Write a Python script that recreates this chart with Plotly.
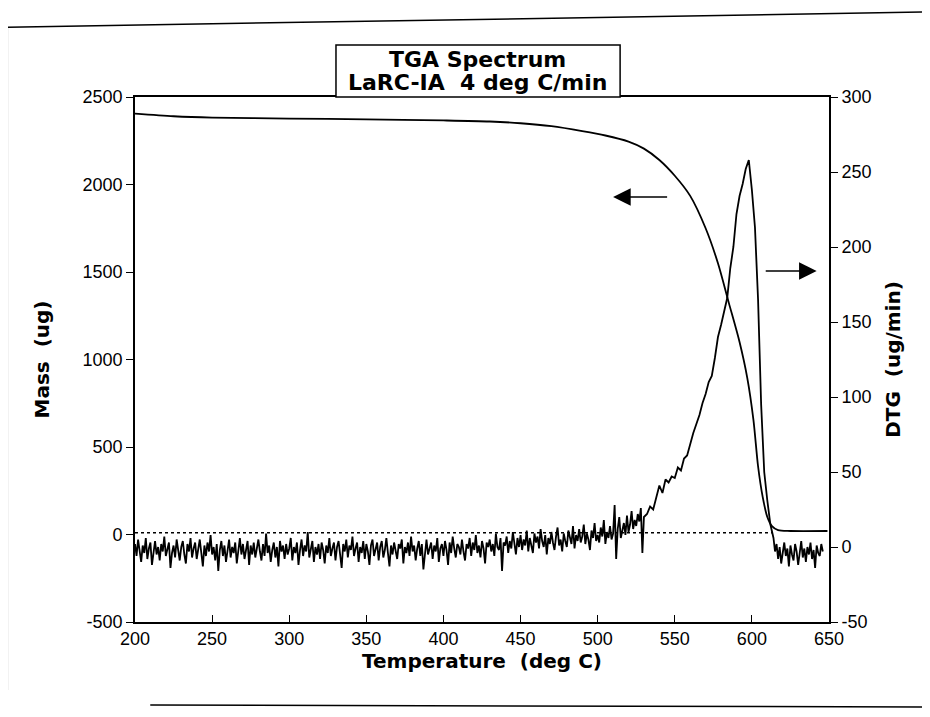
import plotly.graph_objects as go

# ---- data ----
mass_temp = [200, 225, 250, 300, 350, 400, 430, 450, 470, 490, 505, 520, 530, 540, 550,
             560, 570, 578, 585, 592, 597, 601, 604, 607, 610, 613, 617, 625, 649]
mass_ug = [2405, 2390, 2382, 2377, 2372, 2366, 2360, 2350, 2333, 2305, 2280, 2245, 2205, 2140,
           2050, 1935, 1750, 1550, 1325, 1100, 895, 655, 390, 215, 100, 48, 25, 20, 20]

dtg_temp = list(range(200, 531)) + list(range(532, 615, 2)) + list(range(615, 647))
dtg_ugmin = [
    # 200-249
    2, -6, 5, -3, -10, 1, -4, 6, -8, -1,
    3, -12, -2, 4, -5, 0, -9, 2, -3, 7,
    -6, -1, 3, -14, -4, 1, -7, 5, -2, -9,
    0, 4, -5, -11, 2, -3, 6, -7, -1, 3,
    -8, -2, 5, -4, -13, 1, -6, 3, -3, 8,
    # 250-299
    -5, 0, -9, 2, -16, -2, 4, -6, 1, -10,
    -3, 5, -7, 0, -4, 3, -11, -1, 6, -5,
    2, -8, -2, 4, -12, 1, -5, 3, -7, 0,
    5, -3, -9, 2, -6, 9, -4, 1, -10, -2,
    3, -7, 0, -13, 4, -3, 1, -8, 2, -5,
    # 300-349
    -1, 6, -9, 0, -4, 3, -12, -2, 5, -6,
    1, -3, 10, -7, -1, 4, -10, 0, -5, 2,
    -8, 3, -2, -11, 1, -4, 6, -6, -1, 3,
    -9, 0, 4, -5, -14, 2, -3, 5, -7, 1,
    -2, 7, -6, -1, 3, -10, 0, -4, 4, -8,
    # 350-399
    2, -3, -12, 1, 5, -6, -1, 3, -9, 0,
    4, -7, -2, 6, -4, -13, 1, -5, 3, -2,
    -8, 2, -1, 5, -11, 0, -4, 3, -6, 7,
    -3, 1, -9, -1, 4, -6, 2, -15, -2, 5,
    -5, 0, 3, -8, 1, -3, 6, -10, -1, 2,
    # 400-449
    -6, 4, -2, -12, 3, -4, 7, -1, -7, 2,
    0, -5, 5, -3, -9, 2, -1, 6, -6, 3,
    -2, 8, -4, 1, -7, 4, -1, -11, 3, 0,
    5, -3, 2, -6, 9, 0, -2, 6, -16, 3,
    1, 7, -4, 4, -1, 10, 2, -5, 6, 0,
    # 450-499
    8, -2, 5, 1, 11, -3, 6, 2, -4, 9,
    3, 7, -1, 12, 4, 0, 8, -5, 6, 2,
    10, 3, -2, 7, 13, 1, 5, -3, 9, 4,
    0, 11, 6, 2, 14, -1, 8, 4, 12, 3,
    7, 15, 2, 9, 5, -2, 11, 6, 16, 4,
    # 500-530
    8, 3, 13, 7, 18, 2, 10, 6, 14, 5,
    9, 28, -8, 12, 20, 6, 11, 16, 8, 21,
    10, 15, 24, 12, 18, 14, 22, 17, 26, -4,
    20,
    # 532-560 (2 deg)
    22, 27, 25, 33, 41, 36, 45, 43, 47, 46, 53, 51, 59, 61, 69,
    # 562-590
    76, 82, 88, 96, 102, 110, 114, 126, 140, 148, 158, 166, 186, 200, 222,
    # 592-600
    234, 242, 252, 258, 238,
    # 602-614
    213, 165, 95, 50, 31, 15, 6,
    # 615-646
    -3, 2, -8, 0, -11, -4, 3, -6, -1, -13, 1, -5, -9, 2, -3, -12,
    -2, 4, -7, -1, -10, 0, -5, 3, -8, -2, -14, 1, -4, -6, 2, -3,
]

baseline_temp = [200, 613]
baseline_mass = [10, 10]

x_ticks = [200, 250, 300, 350, 400, 450, 500, 550, 600, 650]
mass_ticks = [-500, 0, 500, 1000, 1500, 2000, 2500]
mass_ticklabels = ["-500", "0", "500", "1000", "1500", "2000", "2500"]
dtg_ticks = [-50, 0, 50, 100, 150, 200, 250, 300]
dtg_ticklabels = ["-50", "0", "50", "100", "150", "200", "250", "300"]

TICKFONT = "Liberation Sans"
BOLDFONT = "DejaVu Sans"
NB = "\u00a0"

fig = go.Figure()
fig.add_trace(go.Scatter(x=baseline_temp, y=baseline_mass, mode="lines",
                         line=dict(color="black", width=1.3, dash="dot"),
                         showlegend=False, hoverinfo="skip"))
fig.add_trace(go.Scatter(x=mass_temp, y=mass_ug, mode="lines", line_shape="spline",
                         line=dict(color="black", width=1.8, smoothing=0.8),
                         showlegend=False, name="Mass"))
fig.add_trace(go.Scatter(x=dtg_temp, y=dtg_ugmin, mode="lines",
                         line=dict(color="black", width=1.8), yaxis="y2",
                         showlegend=False, name="DTG"))

axis_common = dict(showgrid=False, zeroline=False, showline=True, linecolor="black",
                   linewidth=1.6, tickcolor="black", tickwidth=1.4, automargin=False,
                   tickfont=dict(family=TICKFONT, size=18, color="black"))
title_font = dict(family=BOLDFONT, size=20, color="black")

fig.update_layout(
    width=922, height=709,
    paper_bgcolor="white", plot_bgcolor="white",
    margin=dict(l=127, r=101, t=89, b=95),
    font=dict(family=TICKFONT, color="black"),
    xaxis=dict(range=[200, 650], tickvals=x_ticks, ticks="inside", ticklen=7,
               mirror=True,
               title=dict(text=f"<b>Temperature{NB}{NB}(deg C)</b>", font=title_font, standoff=6),
               **axis_common),
    yaxis=dict(range=[-500, 2500], tickvals=mass_ticks, ticktext=mass_ticklabels,
               ticks="outside", ticklen=7,
               title=dict(text=f"<b>Mass{NB}{NB}(ug)</b>", font=title_font, standoff=28),
               **axis_common),
    yaxis2=dict(range=[-50, 300], tickvals=dtg_ticks, ticktext=dtg_ticklabels,
                ticks="outside", ticklen=7, overlaying="y", side="right",
                title=dict(text=f"<b>DTG{NB}{NB}(ug/min)</b>", font=title_font, standoff=16),
                **axis_common),
    annotations=[
        dict(text="<b>TGA Spectrum</b>", xref="paper", yref="paper",
             x=0.494, y=1.0705, xanchor="center", yanchor="middle", showarrow=False,
             font=dict(family=BOLDFONT, size=22, color="black")),
        dict(text=f"<b>LaRC-IA{NB}{NB}4 deg C/min</b>", xref="paper", yref="paper",
             x=0.494, y=1.027, xanchor="center", yanchor="middle", showarrow=False,
             font=dict(family=BOLDFONT, size=22, color="black")),
        dict(x=510, y=1929, ax=546, ay=1929, xref="x", yref="y", axref="x", ayref="y",
             showarrow=True, arrowhead=2, arrowsize=2.2, arrowwidth=1.6, arrowcolor="black",
             text=""),
        dict(x=642, y=1506, ax=608, ay=1506, xref="x", yref="y", axref="x", ayref="y",
             showarrow=True, arrowhead=2, arrowsize=2.2, arrowwidth=1.6, arrowcolor="black",
             text=""),
    ],
    shapes=[
        dict(type="rect", xref="paper", yref="paper", x0=0.2896, x1=0.699, y0=1.0, y1=1.099,
             line=dict(color="black", width=1.5), fillcolor="white", layer="above"),
        dict(type="line", xref="paper", yref="paper", x0=-0.184, x1=1.146, y0=1.133, y1=1.162,
             line=dict(color="black", width=1.5)),
        dict(type="line", xref="paper", yref="paper", x0=-0.184, x1=-0.184, y0=1.133, y1=-0.13,
             line=dict(color="black", width=1.5)),
        dict(type="line", xref="paper", yref="paper", x0=0.022, x1=1.146, y0=-0.158, y1=-0.162,
             line=dict(color="black", width=1.5)),
    ],
)

fig.write_html("out.html")
